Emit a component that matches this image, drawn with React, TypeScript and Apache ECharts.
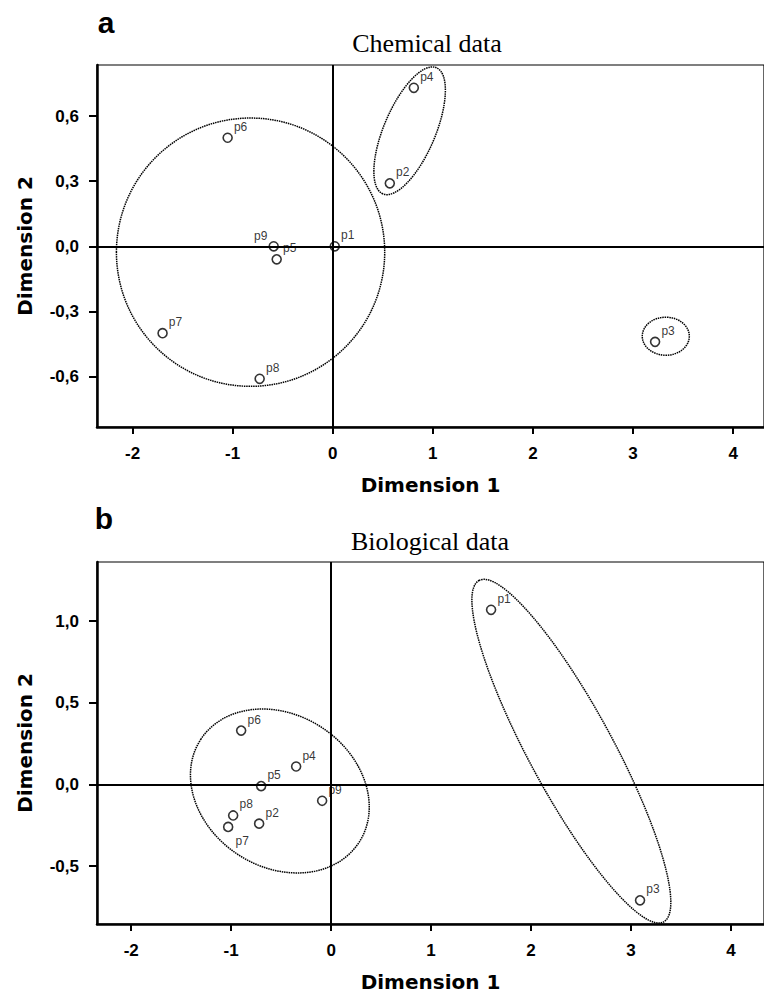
import React, { useEffect, useRef } from 'react';
import * as echarts from 'echarts';

// ---- data ----
const pointNames = ['p1', 'p2', 'p3', 'p4', 'p5', 'p6', 'p7', 'p8', 'p9'];
const chemDim1 = [0.02, 0.57, 3.22, 0.81, -0.56, -1.05, -1.7, -0.73, -0.59];
const chemDim2 = [0.0, 0.29, -0.44, 0.73, -0.06, 0.5, -0.4, -0.61, 0.0];
const bioDim1 = [1.6, -0.72, 3.09, -0.35, -0.7, -0.9, -1.03, -0.98, -0.09];
const bioDim2 = [1.07, -0.24, -0.71, 0.11, -0.01, 0.33, -0.26, -0.19, -0.1];

const xTickValues = [-2, -1, 0, 1, 2, 3, 4];
const chemYTickValues = [-0.6, -0.3, 0, 0.3, 0.6];
const bioYTickValues = [-0.5, 0, 0.5, 1.0];

// cluster ellipses: [center dim1, center dim2, semi-axis a, semi-axis b (both in Dimension 1 units), angle deg]
const chemClusters = [
  [-0.821, -0.027, 1.34, 1.34, 0],
  [0.768, 0.532, 0.684, 0.257, 67],
  [3.327, -0.414, 0.235, 0.19, 0],
];
const bioClusters = [
  [-0.513, -0.04, 0.944, 0.761, -33],
  [2.403, 0.204, 1.94, 0.42, -61.6],
];

// ---- styling helpers ----
const labelFont = 'Liberation Sans';
const defaultLabel = { position: 'right', offset: [0, -11] };
const chemLabelOverrides: Record<string, any> = { p9: { position: 'left', offset: [0, -10] } };
const bioLabelOverrides: Record<string, any> = { p7: { position: 'right', offset: [1, 14] } };

function makePoints(xs: number[], ys: number[], overrides: Record<string, any>) {
  return pointNames.map((n, i) => {
    const o = overrides[n] || defaultLabel;
    return {
      name: n,
      value: [xs[i], ys[i]],
      label: { position: o.position, offset: o.offset, color: '#000' },
    };
  });
}

function ellipseRender(params: any, api: any) {
  const c = api.coord([api.value(0), api.value(1)]);
  const pxPerUnit = api.size([1, 0])[0];
  return {
    type: 'ellipse',
    x: c[0],
    y: c[1],
    rotation: (api.value(4) * Math.PI) / 180,
    shape: { cx: 0, cy: 0, rx: api.value(2) * pxPerUnit, ry: api.value(3) * pxPerUnit },
    style: { fill: 'none', stroke: '#000', lineWidth: 1.5, lineDash: [1.5, 0.8] },
  };
}

const tickLabelStyle = {
  fontFamily: labelFont,
  fontWeight: 'bold' as const,
  fontSize: 17,
  color: '#000',
};
const nameStyle = {
  fontFamily: 'DejaVu Sans',
  fontWeight: 'bold' as const,
  fontSize: 20,
  color: '#000',
};

function xAxisFor(gridIndex: number, min: number, max: number) {
  return {
    type: 'value',
    gridIndex,
    min,
    max,
    name: 'Dimension 1',
    nameLocation: 'middle',
    nameGap: 48,
    nameTextStyle: nameStyle,
    splitLine: { show: false },
    axisLine: { show: true, onZero: false, lineStyle: { color: '#000', width: 2.5 } },
    axisTick: { show: true, customValues: xTickValues, length: 7, lineStyle: { color: '#000', width: 2 } },
    axisLabel: {
      customValues: xTickValues,
      margin: 18,
      ...tickLabelStyle,
      formatter: (v: number) => String(v),
    },
  };
}

function yAxisFor(gridIndex: number, min: number, max: number, ticks: number[]) {
  return {
    type: 'value',
    gridIndex,
    min,
    max,
    name: 'Dimension 2',
    nameLocation: 'middle',
    nameGap: 62,
    nameTextStyle: nameStyle,
    splitLine: { show: false },
    axisLine: { show: true, onZero: false, lineStyle: { color: '#000', width: 2.5 } },
    axisTick: { show: true, customValues: ticks, length: 8, lineStyle: { color: '#000', width: 2 } },
    axisLabel: {
      customValues: ticks,
      margin: 18,
      ...tickLabelStyle,
      formatter: (v: number) => v.toFixed(1).replace('.', ','),
    },
  };
}

function scatterSeries(idx: number, xs: number[], ys: number[], overrides: Record<string, any>) {
  return {
    type: 'scatter',
    xAxisIndex: idx,
    yAxisIndex: idx,
    symbol: 'circle',
    symbolSize: 9,
    itemStyle: { color: 'rgba(0,0,0,0)', borderColor: '#000', borderWidth: 1.6 },
    label: {
      show: true,
      formatter: '{b}',
      position: 'right',
      distance: 1,
      fontFamily: labelFont,
      fontSize: 12,
      color: '#000',
      textBorderWidth: 0,
    },
    emphasis: { disabled: true },
    data: makePoints(xs, ys, overrides),
    markLine: {
      silent: true,
      symbol: ['none', 'none'],
      label: { show: false },
      lineStyle: { color: '#000', width: 2, type: 'solid' },
      data: [{ xAxis: 0 }, { yAxis: 0 }],
    },
    z: 3,
  };
}

function clusterSeries(idx: number, data: number[][]) {
  return {
    type: 'custom',
    xAxisIndex: idx,
    yAxisIndex: idx,
    renderItem: ellipseRender,
    encode: { x: 0, y: 1 },
    silent: true,
    data,
    z: 2,
  };
}

const option: any = {
  animation: false,
  backgroundColor: '#fff',
  grid: [
    { left: 97, right: -4, top: 65, height: 362, show: true, borderColor: '#000', borderWidth: 1.2, backgroundColor: 'transparent' },
    { left: 97, right: -4, top: 562, height: 362, show: true, borderColor: '#000', borderWidth: 1.2, backgroundColor: 'transparent' },
  ],
  xAxis: [xAxisFor(0, -2.355, 4.308), xAxisFor(1, -2.342, 4.33)],
  yAxis: [yAxisFor(0, -0.832, 0.835, chemYTickValues), yAxisFor(1, -0.855, 1.363, bioYTickValues)],
  graphic: [
    { type: 'text', x: 106, y: 22, style: { text: 'a', font: 'bold 30px "Liberation Sans"', textAlign: 'center', textVerticalAlign: 'middle', fill: '#000' } },
    { type: 'text', x: 104, y: 518, style: { text: 'b', font: 'bold 30px "Liberation Sans"', textAlign: 'center', textVerticalAlign: 'middle', fill: '#000' } },
    { type: 'text', x: 427, y: 43, style: { text: 'Chemical data', font: '26px "Liberation Serif"', textAlign: 'center', textVerticalAlign: 'middle', fill: '#000' } },
    { type: 'text', x: 430, y: 541, style: { text: 'Biological data', font: '26px "Liberation Serif"', textAlign: 'center', textVerticalAlign: 'middle', fill: '#000' } },
  ],
  series: [
    clusterSeries(0, chemClusters),
    scatterSeries(0, chemDim1, chemDim2, chemLabelOverrides),
    clusterSeries(1, bioClusters),
    scatterSeries(1, bioDim1, bioDim2, bioLabelOverrides),
  ],
};

export default function App() {
  const ref = useRef<HTMLDivElement>(null);
  useEffect(() => {
    const chart = echarts.init(ref.current as HTMLDivElement, null, { renderer: 'svg' });
    chart.setOption(option);
    return () => chart.dispose();
  }, []);
  return (
    <div
      ref={ref}
      style={{ position: 'absolute', left: 0, top: 0, width: 764, height: 996, background: '#fff' }}
    />
  );
}
